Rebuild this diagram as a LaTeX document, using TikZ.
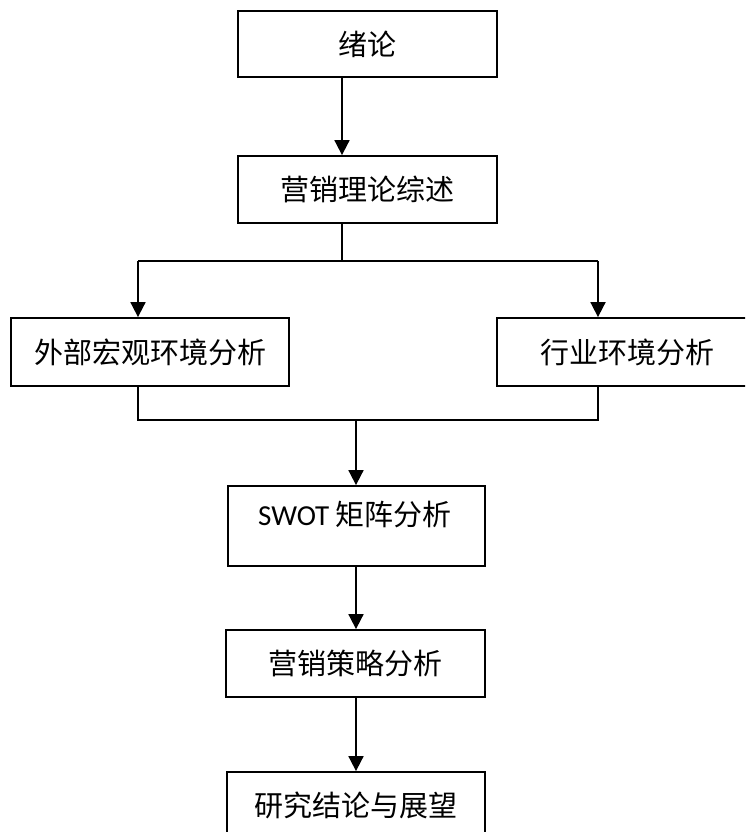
\documentclass[tikz,border=0pt]{standalone}
\usepackage{fontspec}
\newfontfamily\cjk{Noto Sans CJK SC}
\newfontfamily\latinsans{Carlito}
\usetikzlibrary{arrows.meta}
\begin{document}
\begin{tikzpicture}[x=1pt,y=-1pt,
  box/.style={draw=black,line width=1.8pt,fill=white,rectangle,inner sep=0pt,
    font=\cjk\fontsize{29}{34}\selectfont},
  txt/.style={inner sep=0pt,font=\cjk\fontsize{29}{34}\selectfont},
  conn/.style={draw=black,line width=1.8pt},
  arr/.style={conn,-{Triangle[width=15pt,length=15pt]}}]
\useasboundingbox (0,0) rectangle (745,832);
\clip (0,0) rectangle (745,832);
\fill[white] (0,0) rectangle (745,832);
% boxes
\node[box,minimum width=259pt,minimum height=66pt] (b1) at (367.5,44) {绪论};
\node[box,minimum width=259pt,minimum height=67pt] (b2) at (367.5,189.5) {营销理论综述};
\node[box,minimum width=278pt,minimum height=68pt] (bl) at (150,352) {外部宏观环境分析};
\node[box,minimum width=260pt,minimum height=68pt] (br) at (627,352) {行业环境分析};
\node[box,minimum width=257pt,minimum height=80pt] (bs) at (356.5,526) {};
\node[txt] (ts) at (355,515) {{\latinsans SWOT} 矩阵分析};
\node[box,minimum width=259pt,minimum height=67pt] (bm) at (355.5,663.5) {营销策略分析};
\node[box,minimum width=258pt,minimum height=67pt] (be) at (356,805.5) {研究结论与展望};
% helper coordinates
\coordinate (xa) at (342,0);
\coordinate (xl) at (138,0);
\coordinate (xr) at (598,0);
\coordinate (xm) at (356,0);
\coordinate (j1) at (342,261);
\coordinate (jl) at (138,261);
\coordinate (jr) at (598,261);
\coordinate (kl) at (138,420);
\coordinate (kr) at (598,420);
\coordinate (km) at (356,420);
% connectors
\draw[arr] (b1.south -| xa) -- (b2.north -| xa);
\draw[conn] (b2.south -| xa) -- (j1);
\draw[conn] (jl) -- (jr);
\draw[arr] (jl) -- (bl.north -| xl);
\draw[arr] (jr) -- (br.north -| xr);
\draw[conn] (bl.south -| xl) -- (kl) -- (kr) -- (br.south -| xr);
\draw[arr] (km) -- (bs.north -| xm);
\draw[arr] (bs.south -| xm) -- (bm.north -| xm);
\draw[arr] (bm.south -| xm) -- (be.north -| xm);
\end{tikzpicture}
\end{document}
